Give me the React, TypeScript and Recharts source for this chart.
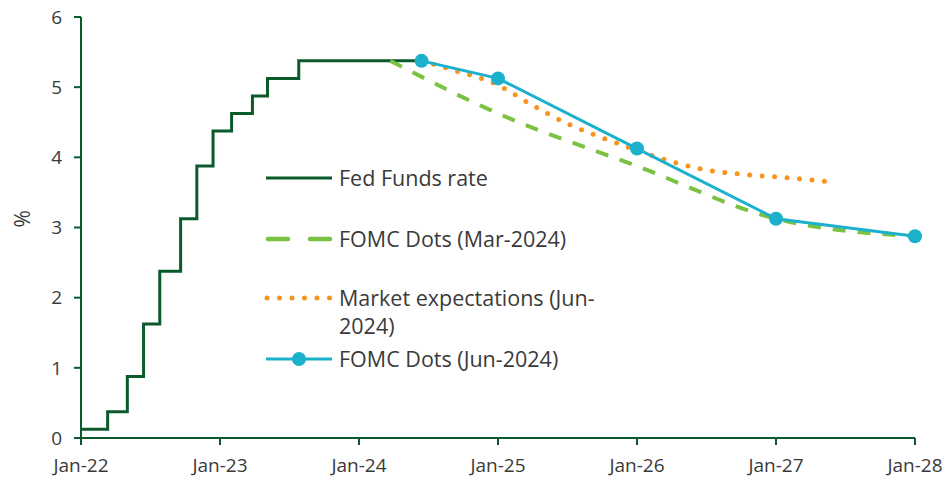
import { LineChart, Line, XAxis, YAxis } from 'recharts';

// x values are months since Jan-22
const X_TICKS = [0, 12, 24, 36, 48, 60, 72];
const X_LABELS = ['Jan-22', 'Jan-23', 'Jan-24', 'Jan-25', 'Jan-26', 'Jan-27', 'Jan-28'];
const Y_TICKS = [0, 1, 2, 3, 4, 5, 6];

const FED_MONTHS = [0, 2.3, 4.0, 5.4, 6.8, 8.6, 10.0, 11.4, 13.0, 14.8, 16.1, 18.8, 29.2];
const FED_RATES = [0.125, 0.375, 0.875, 1.625, 2.375, 3.125, 3.875, 4.375, 4.625, 4.875, 5.125, 5.375, 5.375];

const MAR_MONTHS = [26.7, 36, 48, 60, 72];
const MAR_DOTS = [5.375, 4.625, 3.875, 3.125, 2.875];

const MKT_MONTHS = [29.4, 32, 36, 39, 42, 45, 48, 51, 54, 57, 60, 63, 65.2];
const MKT_RATES = [5.375, 5.25, 5.03, 4.74, 4.48, 4.28, 4.1, 3.94, 3.82, 3.76, 3.72, 3.68, 3.64];

const JUN_MONTHS = [29.4, 36, 48, 60, 72];
const JUN_DOTS = [5.375, 5.125, 4.125, 3.125, 2.875];

const zip = (xs: number[], ys: number[]) => xs.map((m, i) => ({ m, v: ys[i] }));

const fedData = zip(FED_MONTHS, FED_RATES);
const marData = zip(MAR_MONTHS, MAR_DOTS);
const mktData = zip(MKT_MONTHS, MKT_RATES);
const junData = zip(JUN_MONTHS, JUN_DOTS);

const C_FED = '#0b5a2c';
const C_MAR = '#7cc242';
const C_MKT = '#f7941d';
const C_JUN = '#1bb1cc';
const AXIS = '#0b5a2c';
const TEXT = '#3a3a3a';
const FONT = '"Open Sans", "Liberation Sans", sans-serif';

/* legend drawn as an overlay, like the floating Excel legend */
function LegendBox() {
  const item = (y: number, glyph: React.ReactNode, label: React.ReactNode) => (
    <div style={{ position: 'absolute', left: 0, top: y, display: 'flex', alignItems: 'flex-start' }}>
      <svg width={72} height={24} style={{ flex: 'none' }}>{glyph}</svg>
      <span style={{ marginLeft: 5, lineHeight: '28px', marginTop: -2, whiteSpace: 'nowrap' }}>{label}</span>
    </div>
  );
  return (
    <div style={{ position: 'absolute', left: 262, top: 166, width: 360, height: 220, fontFamily: FONT, fontSize: 21.5, color: TEXT }}>
      {item(0, <line x1={4} y1={12} x2={70} y2={12} stroke={C_FED} strokeWidth={3} />, 'Fed Funds rate')}
      {item(61, <line x1={6} y1={12} x2={70} y2={12} stroke={C_MAR} strokeWidth={4.5} strokeDasharray="20 22" strokeLinecap="round" />, 'FOMC Dots (Mar-2024)')}
      {item(120, <line x1={5} y1={12} x2={70} y2={12} stroke={C_MKT} strokeWidth={5} strokeDasharray="0 12.5" strokeLinecap="round" />, <span>Market expectations (Jun-<br />2024)</span>)}
      {item(181, <g><line x1={4} y1={12} x2={70} y2={12} stroke={C_JUN} strokeWidth={3} /><circle cx={37} cy={12} r={7} fill={C_JUN} /></g>, 'FOMC Dots (Jun-2024)')}
    </div>
  );
}

export default function App() {
  return (
    <div style={{ position: 'absolute', left: 0, top: 0, width: 948, height: 481, background: '#fff' }}>
      <LineChart width={948} height={481} margin={{ top: 17, right: 33, left: 41, bottom: 13 }}>
        <XAxis
          type="number"
          dataKey="m"
          domain={[0, 72]}
          ticks={X_TICKS}
          tickFormatter={(v: number) => X_LABELS[X_TICKS.indexOf(v)]}
          allowDuplicatedCategory={false}
          stroke={AXIS}
          strokeWidth={2}
          tickSize={7}
          tickMargin={14}
          height={30}
          tick={{ fill: TEXT, fontSize: 19, fontFamily: FONT }}
        />
        <YAxis
          type="number"
          domain={[0, 6]}
          ticks={Y_TICKS}
          stroke={AXIS}
          strokeWidth={2}
          tickSize={7}
          tickMargin={12}
          width={40}
          tick={{ fill: TEXT, fontSize: 19, fontFamily: FONT }}
          label={{ value: '%', angle: -90, position: 'insideLeft', offset: -18, fill: TEXT, fontSize: 21, fontFamily: FONT }}
        />
        <Line data={fedData} dataKey="v" type="stepAfter" stroke={C_FED} strokeWidth={3} dot={false} isAnimationActive={false} />
        <Line data={marData} dataKey="v" type="monotone" stroke={C_MAR} strokeWidth={4} strokeDasharray="13 12" dot={false} isAnimationActive={false} />
        <Line data={mktData} dataKey="v" type="monotone" stroke={C_MKT} strokeWidth={5} strokeDasharray="0 12.5" strokeLinecap="round" dot={false} isAnimationActive={false} />
        <Line data={junData} dataKey="v" type="linear" stroke={C_JUN} strokeWidth={3} dot={{ r: 7, fill: C_JUN, stroke: C_JUN, strokeWidth: 0 }} isAnimationActive={false} />
      </LineChart>
      <LegendBox />
    </div>
  );
}
